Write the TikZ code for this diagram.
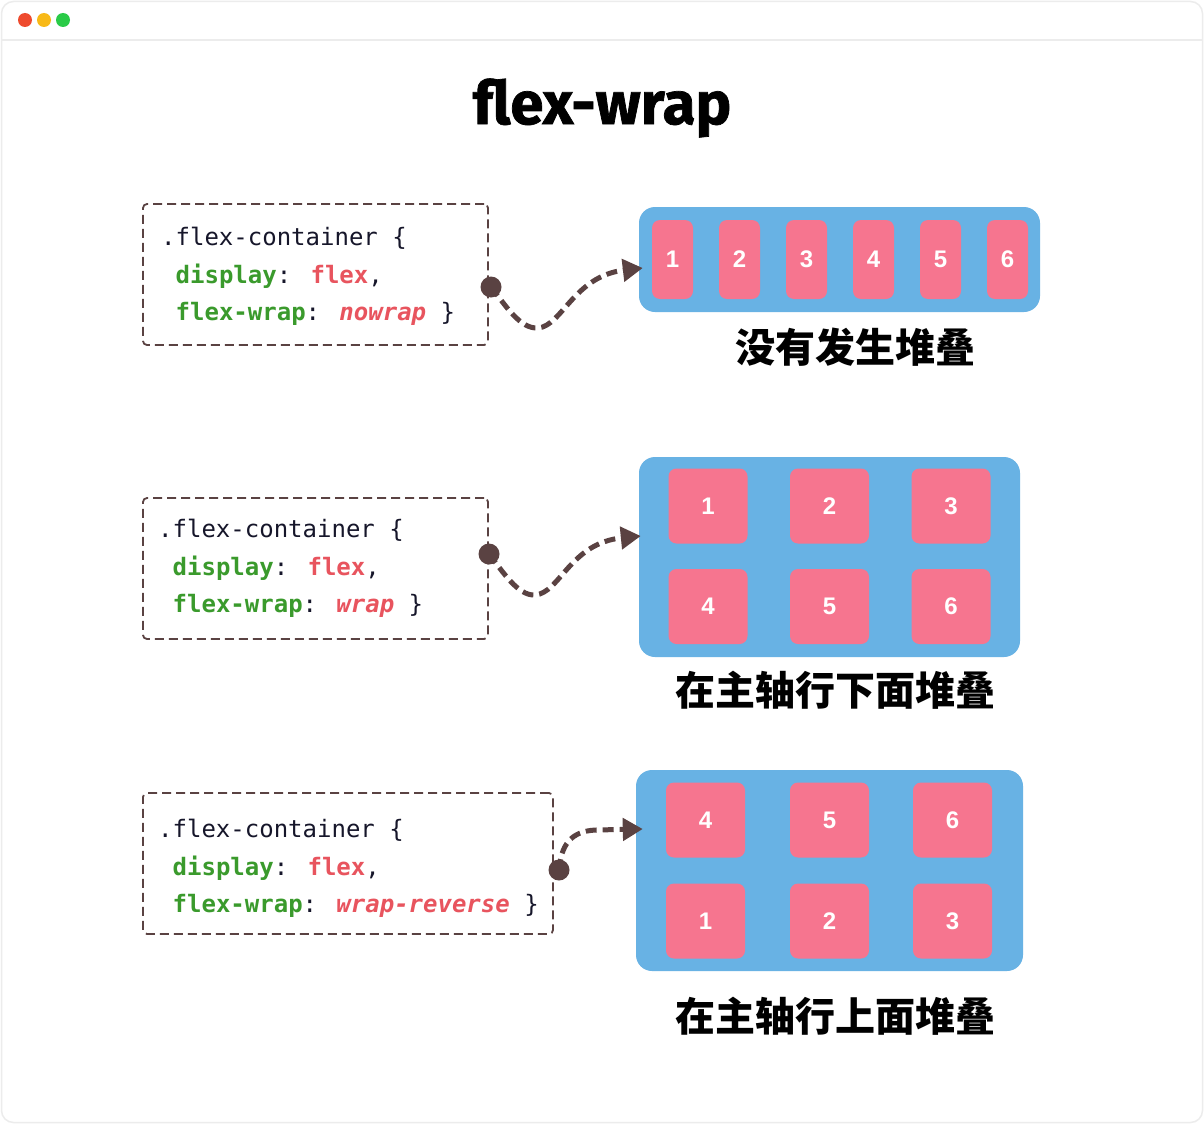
\documentclass[tikz,border=0pt]{standalone}
\usepackage{fontspec}
\usetikzlibrary{arrows.meta,calc}
\newfontfamily\codefont{DejaVu Sans Mono}
\newfontfamily\titlefont{Fira Sans}[BoldFeatures={FakeBold=1.2}]
\newfontfamily\numfont{Liberation Sans}
\newfontfamily\cjk{Noto Sans CJK SC}
\definecolor{framec}{HTML}{ECECEC}
\definecolor{arrowc}{HTML}{5A4242}
\definecolor{boxblue}{HTML}{68B2E4}
\definecolor{itempink}{HTML}{F6758F}
\definecolor{codedark}{HTML}{16162A}
\definecolor{codegreen}{HTML}{3A9A2C}
\definecolor{codered}{HTML}{E8545E}
\definecolor{tlred}{HTML}{EE4A2E}
\definecolor{tlyellow}{HTML}{F8B917}
\definecolor{tlgreen}{HTML}{2ACB47}
\newcommand{\kw}[1]{\textcolor{codegreen}{\bfseries #1}}
\newcommand{\vl}[1]{\textcolor{codered}{\bfseries #1}}
\newcommand{\vi}[1]{\textcolor{codered}{\bfseries\itshape #1}}
\tikzset{
  codebox/.style={draw=arrowc, line width=1.8pt, dash pattern=on 9pt off 5pt,
    rounded corners=4pt, inner sep=0pt},
  codeline/.style={anchor=base west, inner sep=0pt, text=codedark,
    font=\codefont\fontsize{24}{28}\selectfont},
  flexbox/.style={fill=boxblue, rounded corners=16pt, inner sep=0pt},
  item/.style={fill=itempink, rounded corners=8pt, inner sep=0pt, text=white,
    font=\numfont\bfseries\fontsize{24}{26}\selectfont},
  tallitem/.style={item, minimum width=41pt, minimum height=79pt},
  sqitem/.style={item, minimum width=79pt, minimum height=75pt},
  dotc/.style={circle, fill=arrowc, minimum size=21pt, inner sep=0pt},
  flow/.style={draw=arrowc, line width=5pt, dash pattern=on 11pt off 6pt,
    -{Triangle[length=20pt,width=22pt]}},
  caption/.style={font=\cjk\bfseries\fontsize{40}{44}\selectfont, text=black, inner sep=0pt},
  tl/.style={circle, minimum size=14pt, inner sep=0pt}
}
\begin{document}
\begin{tikzpicture}[x=1pt,y=-1pt]
\useasboundingbox (0,0) rectangle (1204,1124);
\fill[white] (0,0) rectangle (1204,1124);
% window frame
\draw[framec, line width=1.5pt, rounded corners=12pt] (1.5,1.5) rectangle (1202.5,1122.5);
\draw[framec, line width=1.5pt] (1.5,40) -- (1202.5,40);
\node[tl, fill=tlred] (w1) at (25,20) {};
\node[tl, fill=tlyellow] (w2) at (44,20) {};
\node[tl, fill=tlgreen] (w3) at (63,20) {};
% title
\node[font=\titlefont\bfseries\fontsize{60}{66}\selectfont, inner sep=0pt] (title) at (602,108) {flex-wrap};

% ---------- row 1 ----------
\node[codebox, minimum width=345pt, minimum height=141pt] (b1) at (315.5,274.5) {};
\node[codeline] (b1l1) at (161,245) {.flex-container \{};
\node[codeline] (b1l2) at (175.5,283) {\kw{display}: \vl{flex},};
\node[codeline] (b1l3) at (175.5,320) {\kw{flex-wrap}: \vi{nowrap} \}};
\node[flexbox, minimum width=401pt, minimum height=105pt] (c1) at (839.5,259.5) {};
\foreach \i in {1,...,6} {
  \node[tallitem] (c1i\i) at ({672.5+67*(\i-1)},259.5) {\i};
}
\node[caption] (cap1) at (855,347) {没有发生堆叠};
\coordinate (t1) at ($(c1.west)+(4,8.5)$);
\draw[flow] (491,287) .. controls (506,306) and (520,329) .. (538,328)
  .. controls (562,326) and (574,276) .. (t1);
\node[dotc] (d1) at (491,287) {};

% ---------- row 2 ----------
\node[codebox, minimum width=345pt, minimum height=141pt] (b2) at (315.5,568.5) {};
\node[codeline] (b2l1) at (158,537) {.flex-container \{};
\node[codeline] (b2l2) at (172.5,575) {\kw{display}: \vl{flex},};
\node[codeline] (b2l3) at (172.5,612) {\kw{flex-wrap}: \vi{wrap} \}};
\node[flexbox, minimum width=381pt, minimum height=200pt] (c2) at (829.5,557) {};
\node[sqitem] (c2i1) at (708,506) {1};
\node[sqitem] (c2i2) at (829.5,506) {2};
\node[sqitem] (c2i3) at (951,506) {3};
\node[sqitem] (c2i4) at (708,606.5) {4};
\node[sqitem] (c2i5) at (829.5,606.5) {5};
\node[sqitem] (c2i6) at (951,606.5) {6};
\node[caption] (cap2) at (835,690) {在主轴行下面堆叠};
\coordinate (t2) at ($(c2.west)+(2,-21)$);
\draw[flow] (489,554) .. controls (503,572) and (518,596) .. (535,595)
  .. controls (560,593) and (570,543) .. (t2);
\node[dotc] (d2) at (489,554) {};

% ---------- row 3 ----------
\node[codebox, minimum width=410pt, minimum height=141pt] (b3) at (348,863.5) {};
\node[codeline] (b3l1) at (158,837) {.flex-container \{};
\node[codeline] (b3l2) at (172.5,875) {\kw{display}: \vl{flex},};
\node[codeline] (b3l3) at (172.5,912) {\kw{flex-wrap}: \vi{wrap-reverse} \}};
\node[flexbox, minimum width=387pt, minimum height=201pt] (c3) at (829.5,870.5) {};
\node[sqitem] (c3i4) at (705.5,820) {4};
\node[sqitem] (c3i5) at (829.5,820) {5};
\node[sqitem] (c3i6) at (952.5,820) {6};
\node[sqitem] (c3i1) at (705.5,921) {1};
\node[sqitem] (c3i2) at (829.5,921) {2};
\node[sqitem] (c3i3) at (952.5,921) {3};
\node[caption] (cap3) at (835,1016) {在主轴行上面堆叠};
\coordinate (t3) at ($(c3.west)+(7,-41.5)$);
\draw[flow] (559,870) .. controls (561,846) and (570,831) .. (596,830) -- (t3);
\node[dotc] (d3) at (559,870) {};
\end{tikzpicture}
\end{document}
